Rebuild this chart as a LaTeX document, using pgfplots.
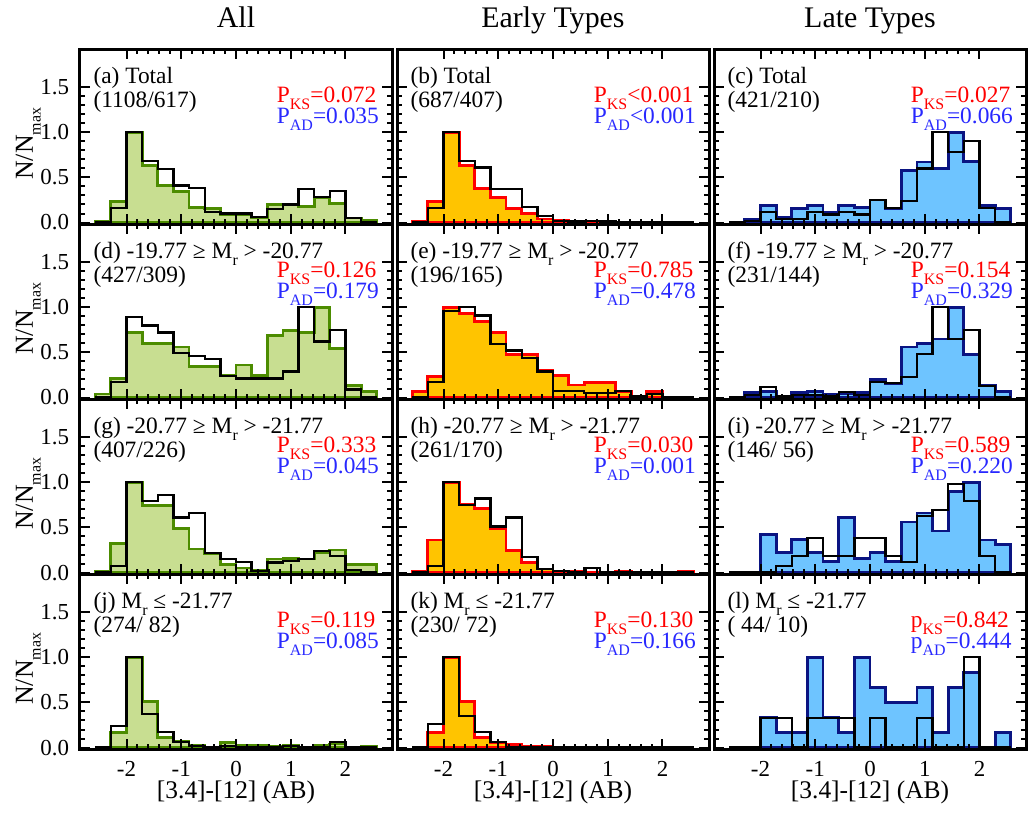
\documentclass[border=0pt]{standalone}
\usepackage{fontspec}
\setmainfont{Liberation Serif}
\usepackage{pgfplots}
\usepackage{pgfplotstable}
\pgfplotsset{compat=1.18}
\usepgfplotslibrary{groupplots}

\definecolor{gfill}{RGB}{200,222,145}
\definecolor{gline}{RGB}{76,140,0}
\definecolor{ofill}{RGB}{255,196,0}
\definecolor{oline}{RGB}{255,0,0}
\definecolor{bfill}{RGB}{110,196,255}
\definecolor{bline}{RGB}{10,20,130}
\definecolor{ksred}{RGB}{255,0,0}
\definecolor{adblue}{RGB}{40,40,255}

\newcommand\fs[1]{\fontsize{#1}{#1}\selectfont}
\newcommand\sub[1]{\raisebox{-0.3em}{\fontsize{8}{8}\selectfont #1}}
\newcommand\KS{P\sub{KS}}
\newcommand\AD{P\sub{AD}}
\tikzset{txt/.style={inner sep=0pt, font=\fs{11.75}}}

% columns: left bin edge, coloured (filled) histogram, black histogram
\pgfplotstableread{
x a b
-2.5714 0 0
-2.5714 0.01 0
-2.2857 0.23 0.16
-2.0000 1.00 1.00
-1.7143 0.63 0.68
-1.4286 0.41 0.59
-1.1429 0.34 0.41
-0.8571 0.17 0.38
-0.5714 0.16 0.12
-0.2857 0.09 0.10
0.0000 0.09 0.10
0.2857 0.06 0.06
0.5714 0.20 0.15
0.8571 0.20 0.20
1.1429 0.18 0.37
1.4286 0.28 0.28
1.7143 0.21 0.35
2.0000 0.05 0.05
2.2857 0.02 0
2.5714 0 0
}\tA
\pgfplotstableread{
x a b
-2.5714 0 0
-2.5714 0.01 0
-2.2857 0.23 0.16
-2.0000 1.00 1.00
-1.7143 0.63 0.68
-1.4286 0.38 0.61
-1.1429 0.28 0.37
-0.8571 0.16 0.37
-0.5714 0.10 0.17
-0.2857 0.04 0.07
0.0000 0.02 0.02
0.2857 0.01 0.01
0.5714 0.01 0.02
0.8571 0.01 0.01
1.1429 0.005 0
1.4286 0.005 0.005
1.7143 0.003 0
2.0000 0.003 0
2.2857 0 0
2.5714 0 0
}\tB
\pgfplotstableread{
x a b
-2.5714 0 0
-2.5714 0 0
-2.2857 0.03 0.02
-2.0000 0.19 0.12
-1.7143 0.06 0.04
-1.4286 0.16 0.04
-1.1429 0.19 0.12
-0.8571 0.11 0.09
-0.5714 0.19 0.12
-0.2857 0.17 0.09
0.0000 0.25 0.25
0.2857 0.16 0.16
0.5714 0.58 0.24
0.8571 0.67 0.60
1.1429 0.60 1.00
1.4286 1.00 0.78
1.7143 0.68 0.90
2.0000 0.19 0.16
2.2857 0.16 0
2.5714 0 0
}\tC
\pgfplotstableread{
x a b
-2.5714 0 0
-2.5714 0.04 0
-2.2857 0.21 0.17
-2.0000 0.72 0.89
-1.7143 0.60 0.80
-1.4286 0.60 0.72
-1.1429 0.56 0.49
-0.8571 0.34 0.46
-0.5714 0.34 0.43
-0.2857 0.25 0.24
0.0000 0.36 0.21
0.2857 0.24 0.21
0.5714 0.69 0.21
0.8571 0.74 0.29
1.1429 0.72 1.00
1.4286 1.00 0.62
1.7143 0.54 0.75
2.0000 0.13 0.09
2.2857 0.07 0
2.5714 0 0
}\tD
\pgfplotstableread{
x a b
-2.5714 0 0
-2.5714 0.07 0
-2.2857 0.23 0.17
-2.0000 1.00 0.96
-1.7143 0.93 1.00
-1.4286 0.84 0.91
-1.1429 0.72 0.59
-0.8571 0.48 0.52
-0.5714 0.48 0.44
-0.2857 0.30 0.29
0.0000 0.24 0.07
0.2857 0.14 0.07
0.5714 0.17 0.05
0.8571 0.17 0.05
1.1429 0.07 0.07
1.4286 0 0.01
1.7143 0.07 0.04
2.0000 0 0
2.2857 0 0
2.5714 0 0
}\tE
\pgfplotstableread{
x a b
-2.5714 0 0
-2.5714 0 0
-2.2857 0.06 0.03
-2.0000 0.07 0.12
-1.7143 0.01 0.01
-1.4286 0.06 0.03
-1.1429 0.07 0.03
-0.8571 0.04 0.01
-0.5714 0.04 0.06
-0.2857 0.06 0.03
0.0000 0.20 0.17
0.2857 0.16 0.16
0.5714 0.56 0.23
0.8571 0.60 0.48
1.1429 0.65 1.00
1.4286 1.00 0.65
1.7143 0.48 0.75
2.0000 0.13 0.13
2.2857 0.07 0
2.5714 0 0
}\tF
\pgfplotstableread{
x a b
-2.5714 0 0
-2.5714 0.01 0
-2.2857 0.32 0.07
-2.0000 1.00 1.00
-1.7143 0.74 0.79
-1.4286 0.74 0.86
-1.1429 0.49 0.61
-0.8571 0.26 0.66
-0.5714 0.21 0.22
-0.2857 0.09 0.15
0.0000 0.05 0.12
0.2857 0.02 0.02
0.5714 0.15 0.11
0.8571 0.16 0.13
1.1429 0.15 0.15
1.4286 0.22 0.24
1.7143 0.25 0.18
2.0000 0.09 0.03
2.2857 0.09 0
2.5714 0 0
}\tG
\pgfplotstableread{
x a b
-2.5714 0 0
-2.5714 0.01 0
-2.2857 0.36 0.07
-2.0000 1.00 1.00
-1.7143 0.76 0.75
-1.4286 0.71 0.82
-1.1429 0.49 0.51
-0.8571 0.24 0.61
-0.5714 0.11 0.17
-0.2857 0.04 0.04
0.0000 0.01 0.02
0.2857 0.01 0
0.5714 0.005 0.05
0.8571 0 0
1.1429 0.01 0
1.4286 0 0
1.7143 0 0
2.0000 0 0
2.2857 0.01 0
2.5714 0 0
}\tH
\pgfplotstableread{
x a b
-2.5714 0 0
-2.5714 0 0
-2.2857 0 0
-2.0000 0.42 0
-1.7143 0.22 0.07
-1.4286 0.37 0.18
-1.1429 0.22 0.38
-0.8571 0.12 0.18
-0.5714 0.61 0.18
-0.2857 0.16 0.38
0.0000 0.22 0.38
0.2857 0.12 0.18
0.5714 0.56 0.12
0.8571 0.66 0.63
1.1429 0.46 0.69
1.4286 0.90 0.98
1.7143 1.00 0.79
2.0000 0.36 0.18
2.2857 0.31 0
2.5714 0 0
}\tI
\pgfplotstableread{
x a b
-2.5714 0 0
-2.5714 0 0
-2.2857 0.17 0.24
-2.0000 1.00 1.00
-1.7143 0.51 0.37
-1.4286 0.11 0.17
-1.1429 0.07 0.06
-0.8571 0.02 0.02
-0.5714 0 0
-0.2857 0.06 0.02
0.0000 0.02 0.01
0.2857 0.02 0.01
0.5714 0.01 0.01
0.8571 0.02 0.02
1.1429 0 0.01
1.4286 0.02 0
1.7143 0.04 0.06
2.0000 0 0
2.2857 0.01 0
2.5714 0 0
}\tJ
\pgfplotstableread{
x a b
-2.5714 0 0
-2.5714 0 0
-2.2857 0.17 0.26
-2.0000 1.00 1.00
-1.7143 0.51 0.35
-1.4286 0.11 0.17
-1.1429 0.06 0.06
-0.8571 0.03 0.01
-0.5714 0.01 0
-0.2857 0.01 0
0.0000 0 0
0.2857 0 0
0.5714 0 0
0.8571 0 0
1.1429 0 0
1.4286 0 0
1.7143 0 0
2.0000 0 0
2.2857 0 0
2.5714 0 0
}\tK
\pgfplotstableread{
x a b
-2.5714 0 0
-2.5714 0 0
-2.2857 0 0
-2.0000 0.33 0.33
-1.7143 0.17 0.33
-1.4286 0.17 0
-1.1429 1.00 0.33
-0.8571 0.33 0.33
-0.5714 0.17 0.33
-0.2857 1.00 0
0.0000 0.67 0.33
0.2857 0.50 0
0.5714 0.50 0
0.8571 0.67 0.33
1.1429 0.17 0
1.4286 0.67 0
1.7143 0.83 1.00
2.0000 0 0
2.2857 0.17 0
2.5714 0 0
}\tL

\newcommand\hist[3]{%
  \addplot[const plot, fill=#2, draw=#3, line width=1.4bp] table[x=x,y=a]{#1} \closedcycle;
  \addplot[const plot, draw=black, line width=1.15bp] table[x=x,y=b]{#1};
}
\newcommand\ptext[4]{%
  \node[txt, anchor=base west] at (rel axis cs:0.042,0.805) {#1};
  \node[txt, anchor=base west] at (rel axis cs:0.042,0.665) {#2};
  \node[txt, anchor=base west, text=ksred] at (rel axis cs:0.63,0.697) {#3};
  \node[txt, anchor=base west, text=adblue] at (rel axis cs:0.63,0.578) {#4};
}

\begin{document}
\begin{tikzpicture}
\begin{groupplot}[
  group style={group size=3 by 4, horizontal sep=2.5bp, vertical sep=0pt},
  scale only axis, width=156bp, height=87.5bp,
  xmin=-2.85, xmax=2.85, ymin=-0.02, ymax=1.92,
  xtick={-2,-1,0,1,2}, xticklabels={-2,-1,0,1,2},
  ytick={0,0.5,1,1.5}, yticklabels={0.0,0.5,1.0,1.5},
  minor x tick num=4, minor y tick num=4,
  tick align=inside, xtick pos=both, ytick pos=both,
  major tick length=5bp, minor tick length=2.5bp,
  every tick/.style={black, line width=1bp},
  axis line style={line width=1.5bp},
  axis on top,
  tick label style={font=\fs{11.5}},
  xticklabel style={anchor=base, yshift=-13.5bp},
  yticklabel style={xshift=-2bp},
  title style={at={(axis description cs:0.5,1)}, anchor=base, yshift=5bp, font=\fs{15}},
  ylabel style={at={(axis description cs:-0.151,0.46)}, anchor=base, font=\fs{13}},
  xlabel style={at={(axis description cs:0.5,-0.28)}, anchor=base, font=\fs{12.75}},
  nox/.style={xticklabels={}},
  noy/.style={yticklabels={}},
]
% row 1
\nextgroupplot[title=All, ylabel={N/N\sub{max}}, nox]
\hist{\tA}{gfill}{gline}
\ptext{(a) Total}{(1108/617)}{\KS=0.072}{\AD=0.035}
\nextgroupplot[title={Early Types}, nox, noy]
\hist{\tB}{ofill}{oline}
\ptext{(b) Total}{(687/407)}{\KS<0.001}{\AD<0.001}
\nextgroupplot[title={Late Types}, nox, noy]
\hist{\tC}{bfill}{bline}
\ptext{(c) Total}{(421/210)}{\KS=0.027}{\AD=0.066}
% row 2
\nextgroupplot[ylabel={N/N\sub{max}}, nox]
\hist{\tD}{gfill}{gline}
\ptext{(d) -19.77 ≥ M\sub{r} > -20.77}{(427/309)}{\KS=0.126}{\AD=0.179}
\nextgroupplot[nox, noy]
\hist{\tE}{ofill}{oline}
\ptext{(e) -19.77 ≥ M\sub{r} > -20.77}{(196/165)}{\KS=0.785}{\AD=0.478}
\nextgroupplot[nox, noy]
\hist{\tF}{bfill}{bline}
\ptext{(f) -19.77 ≥ M\sub{r} > -20.77}{(231/144)}{\KS=0.154}{\AD=0.329}
% row 3
\nextgroupplot[ylabel={N/N\sub{max}}, nox]
\hist{\tG}{gfill}{gline}
\ptext{(g) -20.77 ≥ M\sub{r} > -21.77}{(407/226)}{\KS=0.333}{\AD=0.045}
\nextgroupplot[nox, noy]
\hist{\tH}{ofill}{oline}
\ptext{(h) -20.77 ≥ M\sub{r} > -21.77}{(261/170)}{\KS=0.030}{\AD=0.001}
\nextgroupplot[nox, noy]
\hist{\tI}{bfill}{bline}
\ptext{(i) -20.77 ≥ M\sub{r} > -21.77}{(146/\ 56)}{\KS=0.589}{\AD=0.220}
% row 4
\nextgroupplot[ylabel={N/N\sub{max}}, xlabel={{}[3.4]-[12] (AB)}]
\hist{\tJ}{gfill}{gline}
\ptext{(j) M\sub{r} ≤ -21.77}{(274/\ 82)}{\KS=0.119}{\AD=0.085}
\nextgroupplot[noy, xlabel={{}[3.4]-[12] (AB)}]
\hist{\tK}{ofill}{oline}
\ptext{(k) M\sub{r} ≤ -21.77}{(230/\ 72)}{\KS=0.130}{\AD=0.166}
\nextgroupplot[noy, xlabel={{}[3.4]-[12] (AB)}]
\hist{\tL}{bfill}{bline}
\ptext{(l) M\sub{r} ≤ -21.77}{(\ 44/\ 10)}{p\sub{KS}=0.842}{p\sub{AD}=0.444}
\end{groupplot}
\path ([shift={(-40bp,16.5bp)}]group c1r1.north west) rectangle ([shift={(1bp,-32bp)}]group c3r4.south east);
\end{tikzpicture}
\end{document}
